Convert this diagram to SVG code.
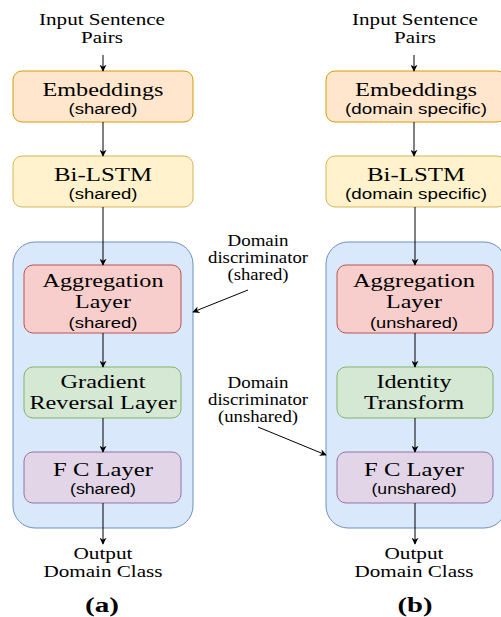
<svg xmlns="http://www.w3.org/2000/svg" width="501" height="617" viewBox="0 0 501 617">
<defs>
<marker id="ah" viewBox="0 0 10 10" refX="9" refY="5" markerWidth="7" markerHeight="7" orient="auto" markerUnits="userSpaceOnUse">
<path d="M0,0 L10,5 L0,10 L3,5 Z" fill="#000"/>
</marker>
<style>
text{lengthAdjust:spacingAndGlyphs}
.t{font-family:"Liberation Serif","Times New Roman",serif;font-size:19px;fill:#000;text-anchor:middle}
.s{font-family:"Liberation Sans",Arial,sans-serif;font-size:14px;fill:#000;text-anchor:middle}
.l{font-family:"Liberation Serif","Times New Roman",serif;font-size:16px;fill:#000;text-anchor:middle}
.c{font-family:"Liberation Serif","Times New Roman",serif;font-size:20px;font-weight:bold;fill:#000;text-anchor:middle}
.emb{fill:#ffe6cc;stroke:#d79b00}
.lstm{fill:#fff2cc;stroke:#d6b656}
.cont{fill:#dae8fc;stroke:#6c8ebf}
.agg{fill:#f8cecc;stroke:#b85450}
.grad{fill:#d5e8d4;stroke:#82b366}
.fc{fill:#e1d5e7;stroke:#9673a6}
.e{stroke:#000;stroke-width:1;fill:none;marker-end:url(#ah)}
</style>
</defs>
<rect width="501" height="617" fill="#fff"/>

<g id="containerA"><rect class="cont" x="13" y="242" width="180" height="286" rx="22"/></g>
<g id="containerB"><rect class="cont" x="326" y="242" width="180" height="286" rx="22"/></g>

<g id="inputA"><text class="l" x="102" y="25" textLength="126" lengthAdjust="spacingAndGlyphs">Input Sentence</text><text class="l" x="102" y="43" textLength="42" lengthAdjust="spacingAndGlyphs">Pairs</text></g>
<g id="embA"><rect class="emb" x="13" y="71" width="180" height="51" rx="9"/><text class="t" x="103" y="96" textLength="121" lengthAdjust="spacingAndGlyphs">Embeddings</text><text class="s" x="103" y="114" textLength="69" lengthAdjust="spacingAndGlyphs">(shared)</text></g>
<g id="lstmA"><rect class="lstm" x="13" y="156" width="180" height="51" rx="9"/><text class="t" x="103" y="181" textLength="98" lengthAdjust="spacingAndGlyphs">Bi-LSTM</text><text class="s" x="103" y="199" textLength="69" lengthAdjust="spacingAndGlyphs">(shared)</text></g>
<g id="aggA"><rect class="agg" x="24" y="265" width="157" height="68" rx="9"/><text class="t" x="103" y="287" textLength="121" lengthAdjust="spacingAndGlyphs">Aggregation</text><text class="t" x="103" y="308" textLength="56" lengthAdjust="spacingAndGlyphs">Layer</text><text class="s" x="103" y="328" textLength="69" lengthAdjust="spacingAndGlyphs">(shared)</text></g>
<g id="gradA"><rect class="grad" x="24" y="367" width="157" height="51" rx="9"/><text class="t" x="103" y="388" textLength="85" lengthAdjust="spacingAndGlyphs">Gradient</text><text class="t" x="103" y="409" textLength="147" lengthAdjust="spacingAndGlyphs">Reversal Layer</text></g>
<g id="fcA"><rect class="fc" x="24" y="452" width="157" height="51" rx="9"/><text class="t" x="103" y="476" textLength="100" lengthAdjust="spacingAndGlyphs">F C Layer</text><text class="s" x="103" y="494" textLength="66" lengthAdjust="spacingAndGlyphs">(shared)</text></g>
<g id="outA"><text class="l" x="103" y="559" textLength="59" lengthAdjust="spacingAndGlyphs">Output</text><text class="l" x="103" y="577" textLength="119" lengthAdjust="spacingAndGlyphs">Domain Class</text></g>
<g id="capA"><text class="c" x="102" y="612" textLength="34" lengthAdjust="spacingAndGlyphs">(a)</text></g>

<g id="inputB"><text class="l" x="415" y="25" textLength="126" lengthAdjust="spacingAndGlyphs">Input Sentence</text><text class="l" x="415" y="43" textLength="42" lengthAdjust="spacingAndGlyphs">Pairs</text></g>
<g id="embB"><rect class="emb" x="326" y="71" width="180" height="51" rx="9"/><text class="t" x="416" y="96" textLength="122" lengthAdjust="spacingAndGlyphs">Embeddings</text><text class="s" x="416" y="114" textLength="142" lengthAdjust="spacingAndGlyphs">(domain specific)</text></g>
<g id="lstmB"><rect class="lstm" x="326" y="156" width="180" height="51" rx="9"/><text class="t" x="416" y="181" textLength="98" lengthAdjust="spacingAndGlyphs">Bi-LSTM</text><text class="s" x="416" y="199" textLength="142" lengthAdjust="spacingAndGlyphs">(domain specific)</text></g>
<g id="aggB"><rect class="agg" x="337" y="265" width="156" height="68" rx="9"/><text class="t" x="414" y="287" textLength="122" lengthAdjust="spacingAndGlyphs">Aggregation</text><text class="t" x="414" y="308" textLength="56" lengthAdjust="spacingAndGlyphs">Layer</text><text class="s" x="414" y="328" textLength="88" lengthAdjust="spacingAndGlyphs">(unshared)</text></g>
<g id="idB"><rect class="grad" x="337" y="367" width="156" height="51" rx="9"/><text class="t" x="414" y="388" textLength="75" lengthAdjust="spacingAndGlyphs">Identity</text><text class="t" x="414" y="409" textLength="100" lengthAdjust="spacingAndGlyphs">Transform</text></g>
<g id="fcB"><rect class="fc" x="337" y="452" width="156" height="51" rx="9"/><text class="t" x="414" y="476" textLength="100" lengthAdjust="spacingAndGlyphs">F C Layer</text><text class="s" x="414" y="494" textLength="85" lengthAdjust="spacingAndGlyphs">(unshared)</text></g>
<g id="outB"><text class="l" x="414" y="559" textLength="59" lengthAdjust="spacingAndGlyphs">Output</text><text class="l" x="414" y="577" textLength="119" lengthAdjust="spacingAndGlyphs">Domain Class</text></g>
<g id="capB"><text class="c" x="415" y="612" textLength="35" lengthAdjust="spacingAndGlyphs">(b)</text></g>

<g id="discS"><text class="l" x="258" y="246" textLength="61" lengthAdjust="spacingAndGlyphs">Domain</text><text class="l" x="258" y="263" textLength="100" lengthAdjust="spacingAndGlyphs">discriminator</text><text class="l" x="258" y="280" textLength="61" lengthAdjust="spacingAndGlyphs">(shared)</text></g>
<g id="discU"><text class="l" x="258" y="388" textLength="61" lengthAdjust="spacingAndGlyphs">Domain</text><text class="l" x="258" y="405" textLength="100" lengthAdjust="spacingAndGlyphs">discriminator</text><text class="l" x="258" y="422" textLength="80" lengthAdjust="spacingAndGlyphs">(unshared)</text></g>

<g id="connectors">
<line class="e" x1="103" y1="55" x2="103" y2="71"/>
<line class="e" x1="103" y1="122" x2="103" y2="156"/>
<line class="e" x1="103" y1="207" x2="103" y2="265"/>
<line class="e" x1="103" y1="333" x2="103" y2="367"/>
<line class="e" x1="103" y1="418" x2="103" y2="452"/>
<line class="e" x1="103" y1="503" x2="103" y2="544"/>
<line class="e" x1="414" y1="55" x2="414" y2="71"/>
<line class="e" x1="414" y1="122" x2="414" y2="156"/>
<line class="e" x1="415" y1="207" x2="415" y2="265"/>
<line class="e" x1="415" y1="333" x2="415" y2="367"/>
<line class="e" x1="415" y1="418" x2="415" y2="452"/>
<line class="e" x1="415" y1="503" x2="415" y2="544"/>
<line class="e" x1="248" y1="290" x2="193" y2="312"/>
<line class="e" x1="258" y1="427" x2="326" y2="455"/>
</g>
</svg>
